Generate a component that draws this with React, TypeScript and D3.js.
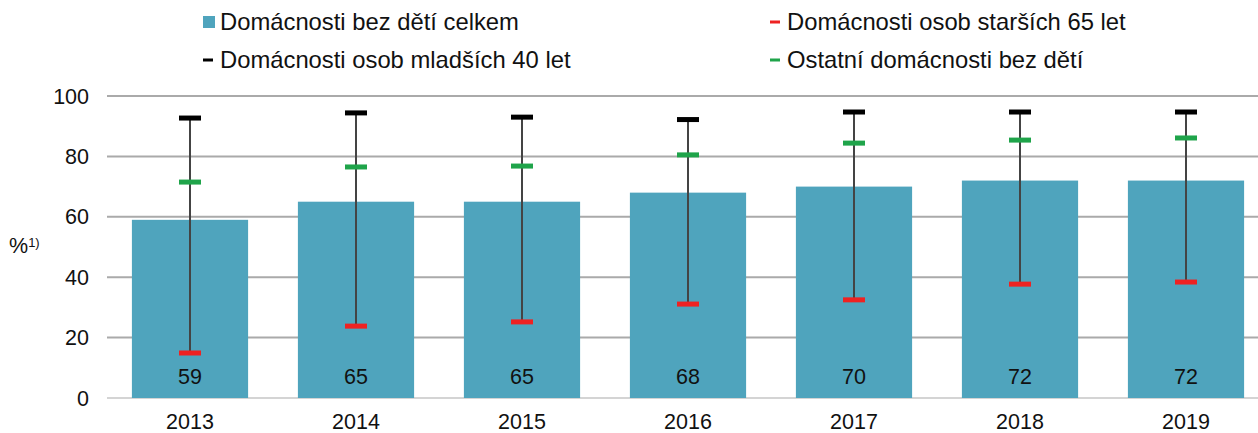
import * as d3 from "d3";

const years = ["2013", "2014", "2015", "2016", "2017", "2018", "2019"];
const totalNoKids = [59, 65, 65, 68, 70, 72, 72];
const under40 = [92.7, 94.4, 93, 92.2, 94.7, 94.7, 94.7];
const over65 = [14.9, 23.8, 25.2, 31.1, 32.5, 37.7, 38.4];
const otherNoKids = [71.5, 76.5, 76.8, 80.5, 84.4, 85.4, 86.1];
const yTicks = [0, 20, 40, 60, 80, 100];

const W = 1258;
const H = 433;
const MARGIN = { top: 96, right: -11, bottom: 35, left: 107 };
const FONT = "'Liberation Sans', Arial, sans-serif";
const FS = 21.5;
const LEGEND_FS = 23.8;

export default function App() {
    const boundsWidth = W - MARGIN.left - MARGIN.right;
    const boundsHeight = H - MARGIN.top - MARGIN.bottom;

    const xScale = d3.scaleBand().domain(years).range([0, boundsWidth]).paddingInner(0.3).paddingOuter(0.15);
    const yScale = d3.scaleLinear().domain([0, 100]).range([boundsHeight, 0]);

    const legend = [
        { label: "Domácnosti bez dětí celkem", color: "#4fa4bd", kind: "square", x: 203, y: 22 },
        { label: "Domácnosti osob mladších 40 let", color: "#000000", kind: "dash", x: 203, y: 60 },
        { label: "Domácnosti osob starších 65 let", color: "#ee2222", kind: "dash", x: 770, y: 22 },
        { label: "Ostatní domácnosti bez dětí", color: "#1fa44a", kind: "dash", x: 770, y: 60 },
    ];

    const markW = 22;
    const markH = 5;

    return (
        <svg width={W} height={H} style={{ position: "absolute", left: 0, top: 0, fontFamily: FONT }}>
            {legend.map((l) => (
                <g key={l.label} transform={`translate(${l.x},${l.y})`}>
                    {l.kind === "square" ? (
                        <rect x={0} y={-6} width={12} height={12} fill={l.color} />
                    ) : (
                        <rect x={0} y={-1.5} width={10} height={3} fill={l.color} />
                    )}
                    <text x={17} y={0} dy="0.35em" fontSize={LEGEND_FS} fill="#111">
                        {l.label}
                    </text>
                </g>
            ))}
            <text x={9} y={253} fontSize={FS} fill="#111">
                %<tspan fontSize={13} dy={-6}>1)</tspan>
            </text>
            <g transform={`translate(${MARGIN.left},${MARGIN.top})`}>
                {yTicks.map((t) => (
                    <g key={t}>
                        <line
                            x1={0}
                            x2={boundsWidth}
                            y1={yScale(t)}
                            y2={yScale(t)}
                            stroke={t === 0 ? "#d4d4d4" : "#aaaaaa"}
                            strokeWidth={2}
                        />
                        <text x={-18} y={yScale(t)} dy="0.35em" textAnchor="end" fontSize={FS} fill="#111">
                            {t}
                        </text>
                    </g>
                ))}
                {years.map((yr, i) => {
                    const x0 = xScale(yr) as number;
                    const cx = x0 + xScale.bandwidth() / 2;
                    return (
                        <g key={yr}>
                            <rect
                                x={x0}
                                y={yScale(totalNoKids[i])}
                                width={xScale.bandwidth()}
                                height={boundsHeight - yScale(totalNoKids[i])}
                                fill="#4fa4bd"
                            />
                            <line
                                x1={cx}
                                x2={cx}
                                y1={yScale(under40[i])}
                                y2={yScale(over65[i])}
                                stroke="#444"
                                strokeWidth={2}
                            />
                            <rect x={cx - markW / 2} y={yScale(under40[i]) - markH / 2} width={markW} height={markH} fill="#000" />
                            <rect x={cx - markW / 2} y={yScale(otherNoKids[i]) - markH / 2} width={markW} height={markH} fill="#1fa44a" />
                            <rect x={cx - markW / 2} y={yScale(over65[i]) - markH / 2} width={markW} height={markH} fill="#ee2222" />
                            <text x={cx} y={yScale(0) - 22} dy="0.35em" textAnchor="middle" fontSize={FS} fill="#111">
                                {totalNoKids[i]}
                            </text>
                            <text x={cx} y={boundsHeight + 23} dy="0.35em" textAnchor="middle" fontSize={FS} fill="#111">
                                {yr}
                            </text>
                        </g>
                    );
                })}
            </g>
        </svg>
    );
}
